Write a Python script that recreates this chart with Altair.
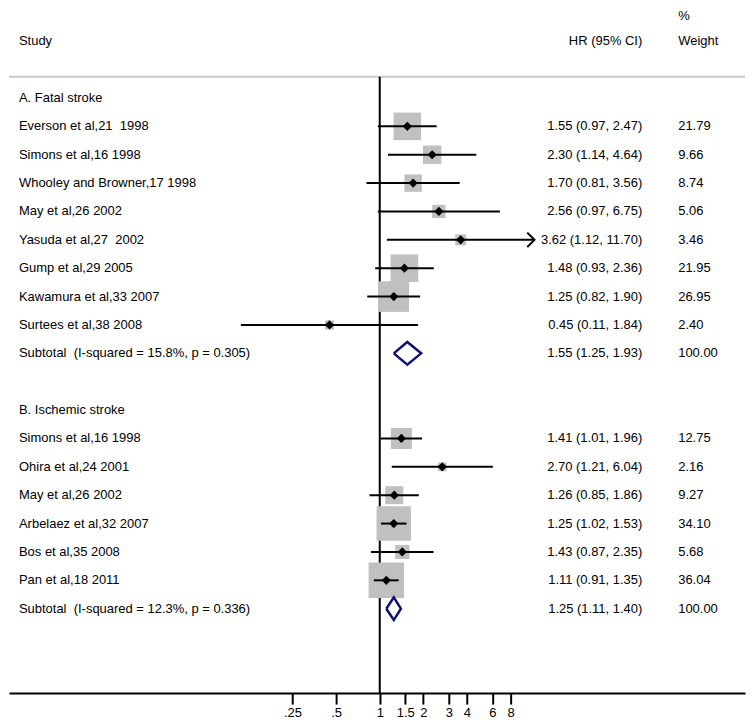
import altair as alt
import pandas as pd

# ---------------- data ----------------
group_titles = ["A. Fatal stroke", "B. Ischemic stroke"]

a_studies = ["Everson et al,21\u00a0 1998", "Simons et al,16 1998", "Whooley and Browner,17 1998",
             "May et al,26 2002", "Yasuda et al,27\u00a0 2002", "Gump et al,29 2005",
             "Kawamura et al,33 2007", "Surtees et al,38 2008"]
a_hr = [1.55, 2.30, 1.70, 2.56, 3.62, 1.48, 1.25, 0.45]
a_lo = [0.97, 1.14, 0.81, 0.97, 1.12, 0.93, 0.82, 0.11]
a_hi = [2.47, 4.64, 3.56, 6.75, 11.70, 2.36, 1.90, 1.84]
a_w = [21.79, 9.66, 8.74, 5.06, 3.46, 21.95, 26.95, 2.40]
a_sub_label = "Subtotal\u00a0 (I-squared = 15.8%, p = 0.305)"
a_sub = [1.55, 1.25, 1.93, 100.00]

b_studies = ["Simons et al,16 1998", "Ohira et al,24 2001", "May et al,26 2002",
             "Arbelaez et al,32 2007", "Bos et al,35 2008", "Pan et al,18 2011"]
b_hr = [1.41, 2.70, 1.26, 1.25, 1.43, 1.11]
b_lo = [1.01, 1.21, 0.85, 1.02, 0.87, 0.91]
b_hi = [1.96, 6.04, 1.86, 1.53, 2.35, 1.35]
b_w = [12.75, 2.16, 9.27, 34.10, 5.68, 36.04]
b_sub_label = "Subtotal\u00a0 (I-squared = 12.3%, p = 0.336)"
b_sub = [1.25, 1.11, 1.40, 100.00]

tick_values = [0.25, 0.5, 1, 1.5, 2, 3, 4, 6, 8]
tick_labels = [".25", ".5", "1", "1.5", "2", "3", "4", "6", "8"]

header_study = "Study"
header_hr = "HR (95% CI)"
header_w1 = "%"
header_w2 = "Weight"

# ---------------- table ----------------
groups = [
    (group_titles[0], a_studies, a_hr, a_lo, a_hi, a_w, a_sub_label, a_sub),
    (group_titles[1], b_studies, b_hr, b_lo, b_hi, b_w, b_sub_label, b_sub),
]

records = [
    dict(row=-1, label=header_study, hrtext=header_hr, wtext=header_w2, kind="header"),
    dict(row=-1.9, label="", hrtext="", wtext=header_w1, kind="header"),
]
diamond_pts = []
r = 1
for gi, (title, st, hr, lo, hi, w, sl, sv) in enumerate(groups):
    records.append(dict(row=r, label=title, hrtext="", wtext="", kind="group"))
    r += 1
    for s, h, l, u, ww in zip(st, hr, lo, hi, w):
        records.append(dict(row=r, label=s, hr=h, lo=l, hi=u, w=ww, kind="study",
                            hrtext=f"{h:.2f} ({l:.2f}, {u:.2f})", wtext=f"{ww:.2f}"))
        r += 1
    h, l, u, ww = sv
    records.append(dict(row=r, label=sl, hr=h, lo=l, hi=u, w=ww, kind="subtotal",
                        hrtext=f"{h:.2f} ({l:.2f}, {u:.2f})", wtext=f"{ww:.2f}"))
    half = 0.40
    for k, (xx, yy) in enumerate([(l, r), (h, r - half), (u, r), (h, r + half), (l, r)]):
        diamond_pts.append(dict(grp=gi, ord=k, x=xx, row=yy))
    r += 2

df = pd.DataFrame(records)
df["label"] = df["label"].fillna("")
df["hrtext"] = df["hrtext"].fillna("")
df["wtext"] = df["wtext"].fillna("")
studies_df = df[df["kind"] == "study"].copy()
arrow_df = studies_df[studies_df["hi"] > max(tick_values)].copy()
diamond_df = pd.DataFrame(diamond_pts)

# ---------------- scales ----------------
FONT = "Liberation Sans"
NAVY = "#12126e"
xscale = alt.Scale(type="log", domain=[0.00276, 332.0], nice=False)
yscale = alt.Scale(domain=[-2.067, 21.975], reverse=True, nice=False, zero=False)

label_expr = ""
for v, t in zip(tick_values, tick_labels):
    label_expr += f"datum.value == {v} ? '{t}' : "
label_expr += "datum.label"

xaxis = alt.Axis(values=tick_values, labelExpr=label_expr, title=None, grid=False,
                 domainColor="black", domainWidth=2, tickColor="black", tickWidth=2,
                 tickSize=11, labelPadding=2, labelFont=FONT, labelFontSize=13,
                 labelColor="black", labelFlush=False, labelOverlap=False)


def X(field):
    return alt.X(field, type="quantitative", scale=xscale, axis=xaxis)


Y = alt.Y("row:Q", scale=yscale, axis=None)

# ---------------- layers ----------------
header_line = alt.Chart(pd.DataFrame({"row": [0.253]})).mark_rule(
    color="#c8c8c8", strokeWidth=2).encode(x=alt.value(0), x2=alt.value(738), y=Y)

null_line = alt.Chart(pd.DataFrame({"x": [1], "row": [0.253], "row2": [21.975]})).mark_rule(
    color="black", strokeWidth=2).encode(x=X("x"), y=Y, y2="row2:Q")

squares = alt.Chart(studies_df).mark_square(color="#c0c0c0", opacity=1).encode(
    x=X("hr"), y=Y,
    size=alt.Size("w:Q", scale=alt.Scale(domain=[0, 100], range=[0, 3500]), legend=None))

ci = alt.Chart(studies_df).mark_rule(color="black", strokeWidth=2).encode(
    x=X("lo"), x2="hi:Q", y=Y)

points = alt.Chart(studies_df).mark_point(shape="diamond", filled=True, color="black",
                                          size=85, opacity=1).encode(x=X("hr"), y=Y)

arrows = alt.Chart(arrow_df).mark_point(shape="M-1,-1L0,0L-1,1", filled=False, color="black",
                                        strokeWidth=2, size=210, opacity=1).encode(x=X("hi"), y=Y)

diamonds = alt.Chart(diamond_df).mark_line(color=NAVY, strokeWidth=2.5, strokeJoin="miter").encode(
    x=X("x"), y=Y, order="ord:Q", detail="grp:N")

txt = dict(font=FONT, fontSize=13, color="black", baseline="middle")
lab = alt.Chart(df).mark_text(align="left", **txt).encode(x=alt.value(10), y=Y, text="label:N")
hrt = alt.Chart(df).mark_text(align="right", **txt).encode(x=alt.value(635), y=Y, text="hrtext:N")
wt = alt.Chart(df).mark_text(align="left", **txt).encode(x=alt.value(671), y=Y, text="wtext:N")

chart = alt.layer(header_line, null_line, squares, ci, points, arrows, diamonds, lab, hrt, wt).properties(
    width=738, height=684, padding=0, background="white"
).configure_view(stroke=None)

chart.save("out.html", embed_options={"renderer": "svg", "actions": False})
